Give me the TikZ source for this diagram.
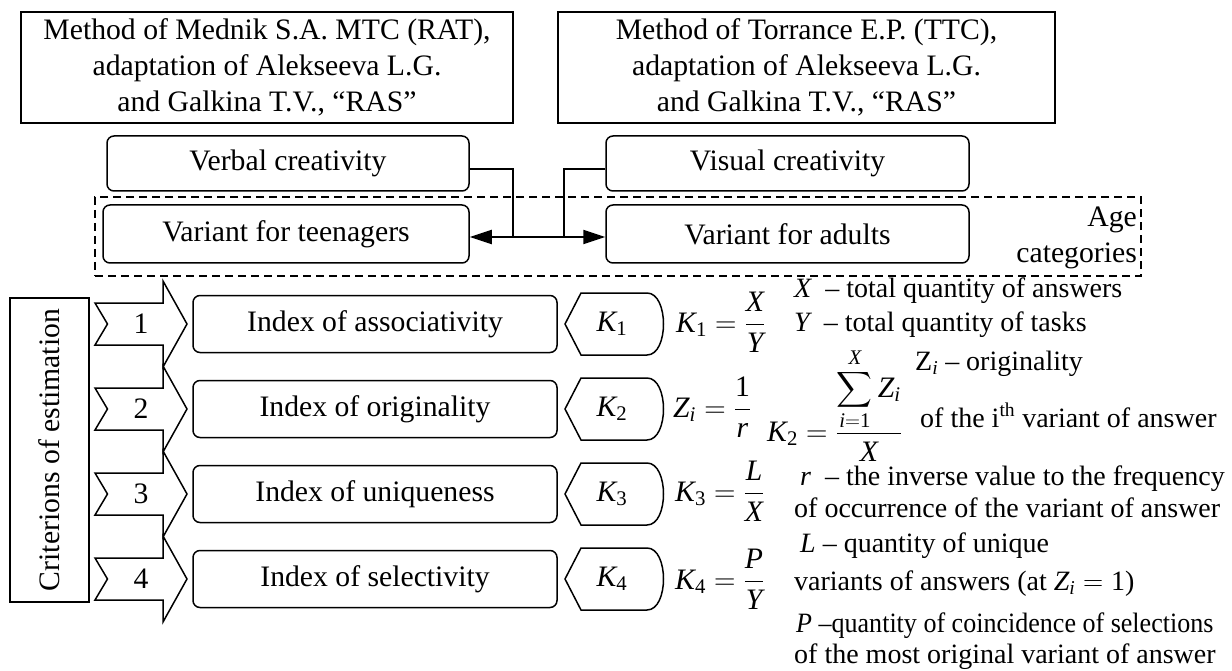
\RequirePackage{fix-cm}
\documentclass[tikz,border=0pt]{standalone}
\usepackage{amsmath}
\usepackage{graphicx}
\usepackage{fontspec}
\setmainfont{Liberation Serif}
\usetikzlibrary{arrows.meta,calc}
\newcommand\fsbig{\fontsize{29.7}{36}\selectfont}
\newcommand\fssmall{\fontsize{28}{34}\selectfont}
\newcommand\iv[1]{\text{\itshape #1}}
\newcommand\rv[1]{\text{\upshape #1}}
\begin{document}
\begin{tikzpicture}[x=1pt,y=-1pt,
  every node/.style={inner sep=0pt, font=\fsbig},
  sbox/.style={draw, line width=1.5pt},
  rbox/.style={draw, line width=1.5pt, rounded corners=7pt},
  sline/.style={line width=1.5pt, line join=miter},
  conn/.style={line width=1.5pt},
  dbl/.style={line width=2.2pt, {Triangle[length=22pt,width=14pt]}-{Triangle[length=22pt,width=14pt]}},
  grp/.style={draw, line width=1.5pt, dash pattern=on 8pt off 5pt},
  note/.style={anchor=base west, font=\fssmall}]
\useasboundingbox (0,0) rectangle (1232,671);

% method boxes
\node[sbox, minimum width=492pt, minimum height=111pt, align=center] (mednik) at (267,67.5)
  {Method of Mednik S.A. MTC (RAT),\\ adaptation of Alekseeva L.G.\\ and Galkina T.V., “RAS”};
\node[sbox, minimum width=497pt, minimum height=111pt, align=center] (torrance) at (806.5,67.5)
  {Method of Torrance E.P. (TTC),\\ adaptation of Alekseeva L.G.\\ and Galkina T.V., “RAS”};

% creativity boxes
\node[rbox, minimum width=362pt, minimum height=55pt] (verbal) at (288,163.5) {Verbal creativity};
\node[rbox, minimum width=363pt, minimum height=55pt] (visual) at (787.5,163.5) {Visual creativity};

% age categories group
\node[grp, minimum width=1046pt, minimum height=79pt] (agegrp) at (618,236.5) {};
\node[rbox, minimum width=366pt, minimum height=58pt] (teen) at (286,234) {Variant for teenagers};
\node[rbox, minimum width=363pt, minimum height=58pt] (adults) at (787.5,234) {Variant for adults};
\node[anchor=east, align=right] (agelbl) at (1137,238) {Age\\categories};

% connectors
\coordinate (j1) at (513,237);
\coordinate (j2) at (564,237);
\draw[conn] ([yshift=-5.5pt]verbal.east) -| (j1);
\draw[conn] ([yshift=-5.5pt]visual.west) -| (j2);
\draw[dbl] (teen.east |- j1) -- (adults.west |- j1);

% criterions
\node[sbox, rotate=90, minimum width=304pt, minimum height=79pt] (crit) at (49.5,450) {Criterions of estimation};

% rows
\foreach \c/\n/\t in {324/1/associativity,409/2/originality,494/3/uniqueness,579/4/selectivity}{
  \draw[sline] (95,{\c-21}) -- (163,{\c-21}) -- (163,{\c-43}) -- (187,\c) -- (163,{\c+43})
    -- (163,{\c+21}) -- (95,{\c+21}) -- (107.5,\c) -- cycle;
  \node (num\n) at (141,\c) {\n};
  \node[rbox, minimum width=364pt, minimum height=57pt] (idx\n) at (375,\c) {Index of \t};
  \draw[sline] (565,\c) -- (581,{\c-31}) -- (647,{\c-31})
    .. controls (669,{\c-31}) and (669,{\c+31}) .. (647,{\c+31}) -- (581,{\c+31}) -- cycle;
  \node (k\n) at (612,\c) {$\iv{K}_{\rv{\n}}$};
}

% formulas
\node[anchor=base west] (f1) at (676,332) {$\iv{K}_{\rv{1}} = \dfrac{\iv{X}}{\iv{Y}}$};
\node[anchor=base west] (f2) at (673,417) {$\iv{Z}_{\iv{i}} = \dfrac{\rv{1}}{\iv{r}}$};
\node[anchor=base west] (f2b) at (767,441) {$\iv{K}_{\rv{2}} = \dfrac{\displaystyle\sum_{\iv{i}=\rv{1}}^{\iv{X}} \iv{Z}_{\iv{i}}}{\iv{X}}$};
\node[anchor=base west] (f3) at (675,501) {$\iv{K}_{\rv{3}} = \dfrac{\iv{L}}{\iv{X}}$};
\node[anchor=base west] (f4) at (675,589) {$\iv{K}_{\rv{4}} = \dfrac{\iv{P}}{\iv{Y}}$};

% notes
\node[note] (t1) at (794,298) {\iv{X}\enspace– total quantity of answers};
\node[note] (t2) at (794,331) {\iv{Y}\enspace– total quantity of tasks};
\node[note] (t3) at (915,370) {$\rv{Z}_{\iv{i}}$ – originality};
\node[note] (t4) at (920,427) {of the i\textsuperscript{th} variant of answer};
\node[note] (t5) at (800,485) {\iv{r}\enspace– the inverse value to the frequency};
\node[note] (t6) at (794,517) {of occurrence of the variant of answer};
\node[note] (t7) at (800,552) {\iv{L} – quantity of unique};
\node[note] (t8) at (794,590) {variants of answers (at $\iv{Z}_{\iv{i}} = \rv{1}$)};
\node[note] (t9) at (796,632) {\scalebox{0.93}[1]{\iv{P} –quantity of coincidence of selections}};
\node[note] (t10) at (794,663) {of the most original variant of answer};
\end{tikzpicture}
\end{document}
